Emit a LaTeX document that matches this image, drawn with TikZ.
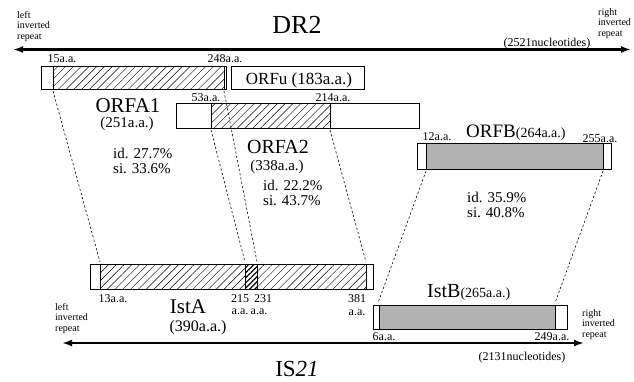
\documentclass[tikz,border=0pt]{standalone}
\usepackage{fontspec}
\setmainfont{Liberation Serif}
\usetikzlibrary{arrows.meta,patterns.meta}
\begin{document}
\begin{tikzpicture}[x=1pt,y=-1pt,
  box/.style={draw, line width=0.6pt, inner sep=0pt, outer sep=0pt, anchor=north west},
  sepline/.style={line width=0.6pt},
  hatch/.style={pattern={Lines[angle=45,distance=5.5pt,line width=0.45pt]}},
  densehatch/.style={pattern={Lines[angle=45,distance=3.6pt,line width=1.2pt]}},
  shadefill/.style={fill=black!30},
  link/.style={line width=0.6pt, dash pattern=on 2.2pt off 2.2pt},
  seqline/.style={line width=2.6pt, {Latex[length=10pt,width=7pt]}-{Latex[length=10pt,width=7pt]}},
  txt/.style={inner sep=0pt, anchor=base},
  fs/.style={font=\fontsize{#1}{#1}\selectfont},
  repeattxt/.style={inner sep=0pt, anchor=north west, align=left, font=\fontsize{10}{10.5}\selectfont}
]
\useasboundingbox (0,0) rectangle (634,381);

% ---------- DR2 ----------
\node[txt, fs=26] (dr2) at (297,33) {DR2};
\coordinate (d2l) at (13,49.5);
\coordinate (d2r) at (631,49.5);
\draw[seqline] (d2l) -- (d2r);
\node[repeattxt] (lirtop) at (17,11) {left\\inverted\\repeat};
\node[repeattxt] (rirtop) at (598,8) {right\\inverted\\repeat};
\node[txt, fs=12] (nt2521) at (547,46) {(2521nucleotides)};

% ---------- ORFA1 ----------
\fill[hatch] (53,66) rectangle (224,89);
\node[box, minimum width=185pt, minimum height=23pt] (orfa1) at (41,66) {};
\draw[sepline] (53,66) -- (53,89);
\draw[sepline] (224,66) -- (224,89);
\node[txt, fs=12] (a1s) at (62,62) {15a.a.};
\node[txt, fs=12] (a1e) at (225,62) {248a.a.};
\node[txt, fs=21] (a1name) at (128,112) {ORFA1};
\node[txt, fs=15] (a1len) at (127,127) {(251a.a.)};

% ---------- ORFu ----------
\node[box, minimum width=133pt, minimum height=23pt] (orfu) at (231,66) {};
\node[txt, fs=17] (orfutxt) at (299,84) {ORFu (183a.a.)};

% ---------- ORFA2 ----------
\fill[hatch] (211,103) rectangle (330,128);
\node[box, minimum width=243pt, minimum height=25pt] (orfa2) at (176,103) {};
\draw[sepline] (211,103) -- (211,128);
\draw[sepline] (330,103) -- (330,128);
\node[txt, fs=12] (a2s) at (206,101) {53a.a.};
\node[txt, fs=12] (a2e) at (333,101) {214a.a.};
\node[txt, fs=20] (a2name) at (278,153) {ORFA2};
\node[txt, fs=15] (a2len) at (277,170) {(338a.a.)};

% ---------- ORFB ----------
\fill[shadefill] (426,143) rectangle (603,169);
\node[box, minimum width=194pt, minimum height=26pt] (orfb) at (417,143) {};
\draw[sepline] (426,143) -- (426,169);
\draw[sepline] (603,143) -- (603,169);
\node[txt, fs=12] (bs) at (437,140) {12a.a.};
\node[txt, fs=12] (be) at (600,142) {255a.a.};
\node[txt, fs=19, anchor=base west] (bname) at (466,137) {ORFB\fontsize{14}{14}\selectfont(264a.a.)};

% ---------- identity / similarity ----------
\node[txt, anchor=base west, align=left, font=\fontsize{15}{15}\selectfont] (sim1) at (113,173) {id. 27.7\%\\si. 33.6\%};
\node[txt, anchor=base west, align=left, font=\fontsize{15}{15}\selectfont] (sim2) at (263,205) {id. 22.2\%\\si. 43.7\%};
\node[txt, anchor=base west, align=left, font=\fontsize{15}{15}\selectfont] (sim3) at (467,217) {id. 35.9\%\\si. 40.8\%};

% ---------- IstA ----------
\fill[hatch] (100,264) rectangle (245,289);
\fill[densehatch] (245,264) rectangle (257,289);
\fill[hatch] (257,264) rectangle (366,289);
\node[box, minimum width=283pt, minimum height=25pt] (ista) at (90,264) {};
\draw[sepline] (100,264) -- (100,289);
\draw[sepline] (245,264) -- (245,289);
\draw[sepline] (257,264) -- (257,289);
\draw[sepline] (366,264) -- (366,289);
\node[txt, fs=12] (as) at (113,302) {13a.a.};
\node[txt, fs=12] (a215) at (240,302) {215};
\node[txt, fs=12] (a215b) at (240,314) {a.a.};
\node[txt, fs=12] (a231) at (263,302) {231};
\node[txt, fs=12] (a231b) at (259,314) {a.a.};
\node[txt, fs=12] (a381) at (357,302) {381};
\node[txt, fs=12] (a381b) at (357,315) {a.a.};
\node[txt, fs=21] (aname) at (188,313) {IstA};
\node[txt, fs=16] (alen) at (198,331) {(390a.a.)};

% ---------- IstB ----------
\fill[shadefill] (379,305) rectangle (555,329);
\node[box, minimum width=194pt, minimum height=24pt] (istb) at (373,305) {};
\draw[sepline] (379,305) -- (379,329);
\draw[sepline] (555,305) -- (555,329);
\node[txt, fs=12] (ibs) at (384,340) {6a.a.};
\node[txt, fs=12] (ibe) at (552,340) {249a.a.};
\node[txt, fs=20, anchor=base west] (ibname) at (427,297) {IstB\fontsize{14}{14}\selectfont(265a.a.)};

% ---------- IS21 ----------
\coordinate (isl) at (62,343);
\coordinate (isr) at (584,343);
\draw[seqline] (isl) -- (isr);
\node[repeattxt] (lirbot) at (55,303) {left\\inverted\\repeat};
\node[repeattxt] (rirbot) at (582,309) {right\\inverted\\repeat};
\node[txt, fs=12] (nt2131) at (522,360) {(2131nucleotides)};
\node[txt, fs=23] (is21) at (297,376) {IS\textit{21}};

% ---------- alignment links ----------
\coordinate (l1a) at (53,91);   \coordinate (l1b) at (100,262);
\coordinate (l2a) at (211,130); \coordinate (l2b) at (245,262);
\coordinate (l3a) at (224,91);  \coordinate (l3b) at (257,262);
\coordinate (l4a) at (330,130); \coordinate (l4b) at (366,262);
\coordinate (l5a) at (426,171); \coordinate (l5b) at (378,303);
\coordinate (l6a) at (603,171); \coordinate (l6b) at (555,303);
\draw[link] (l1a) -- (l1b);
\draw[link] (l2a) -- (l2b);
\draw[link] (l3a) -- (l3b);
\draw[link] (l4a) -- (l4b);
\draw[link] (l5a) -- (l5b);
\draw[link] (l6a) -- (l6b);
\end{tikzpicture}
\end{document}
